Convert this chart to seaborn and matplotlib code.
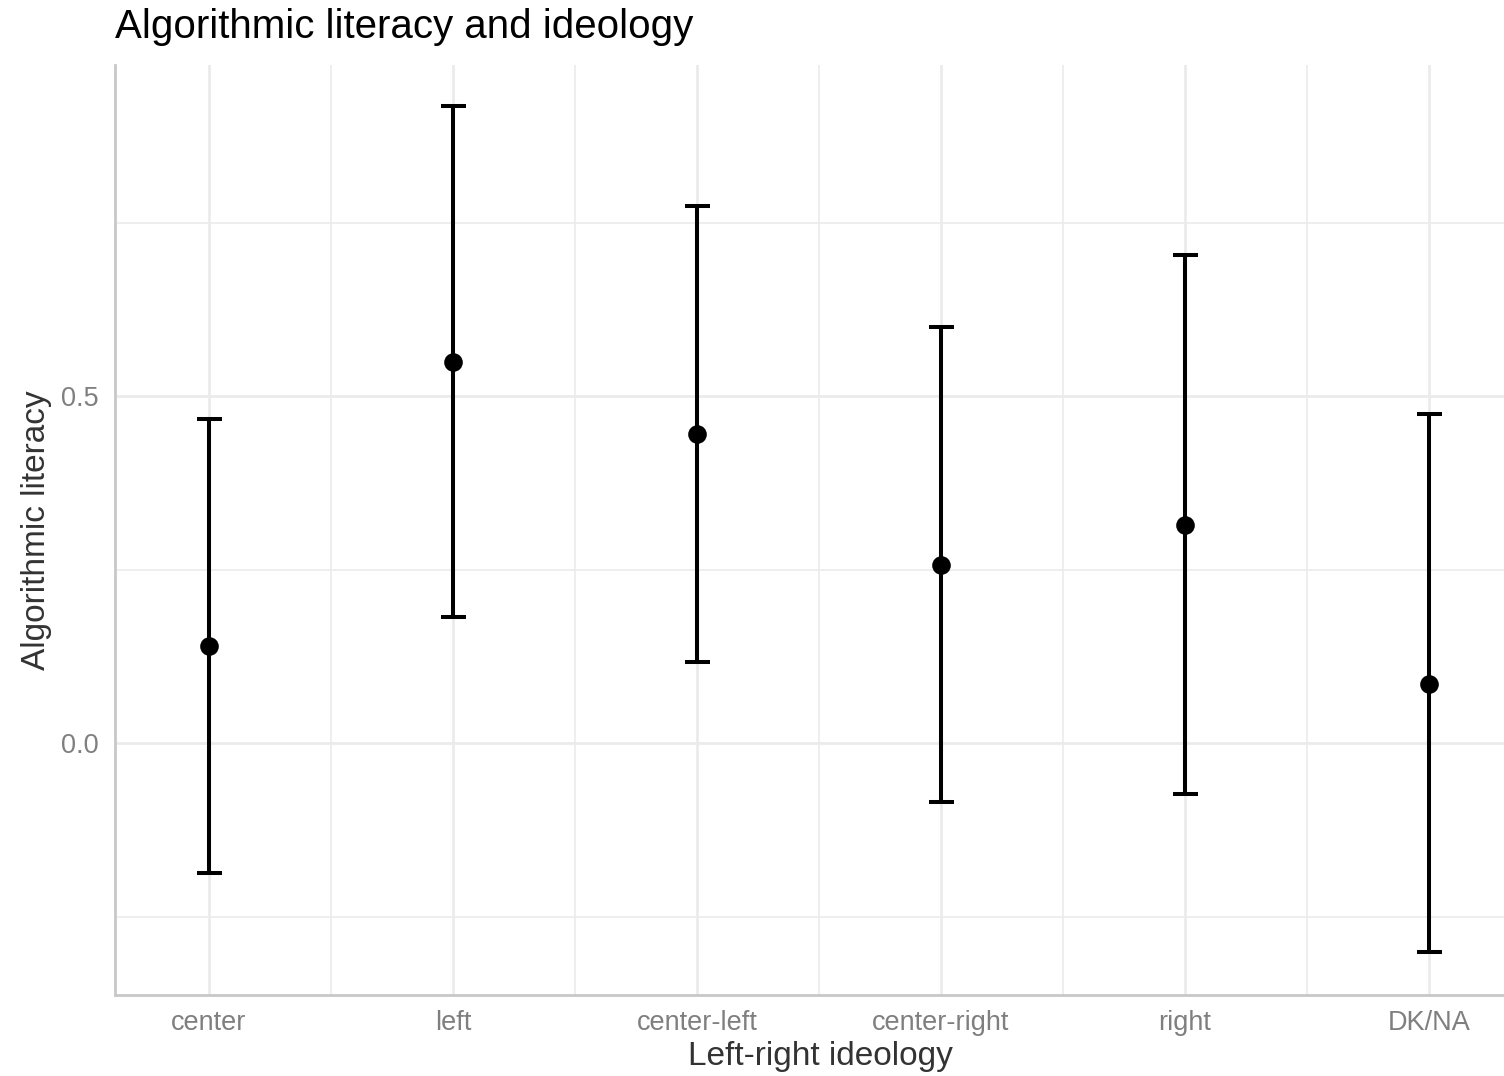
import matplotlib
matplotlib.use("Agg")
import matplotlib.pyplot as plt
import seaborn as sns
import pandas as pd
import numpy as np
from matplotlib.ticker import FixedLocator

categories = ["center", "left", "center-left", "center-right", "right", "DK/NA"]
estimate = [0.140, 0.549, 0.445, 0.257, 0.314, 0.085]
lower = [-0.187, 0.182, 0.117, -0.085, -0.074, -0.301]
upper = [0.467, 0.918, 0.774, 0.599, 0.703, 0.474]

df = pd.DataFrame({"ideology": categories, "estimate": estimate,
                   "lower": lower, "upper": upper})

sns.set_theme(style="white")
plt.rcParams["font.family"] = ["Liberation Sans", "DejaVu Sans"]

W, H = 1504, 1076
fig = plt.figure(figsize=(W / 100, H / 100), dpi=100)
ax = fig.add_axes([115 / W, (H - 995) / H, (1504 - 115) / W, (995 - 65) / H])

xpos = np.arange(len(categories))
ax.errorbar(xpos, df["estimate"],
            yerr=[df["estimate"] - df["lower"], df["upper"] - df["estimate"]],
            fmt="none", ecolor="black", elinewidth=2.9, capsize=9, capthick=2.9, zorder=3)
sns.scatterplot(data=df, x="ideology", y="estimate", color="black", s=180,
                edgecolor="black", linewidth=0, ax=ax, zorder=4)

ax.set_xlim(-0.385, 5.307)
ax.set_ylim(-0.363, 0.977)

ax.set_yticks([0.0, 0.5])
ax.set_yticklabels(["0.0", "0.5"])
ax.yaxis.set_minor_locator(FixedLocator([-0.25, 0.25, 0.75]))
ax.set_xticks(xpos)
ax.set_xticklabels(categories)
ax.xaxis.set_minor_locator(FixedLocator(xpos[:-1] + 0.5))

ax.grid(which="major", color="#EBEBEB", linewidth=2.0)
ax.grid(which="minor", color="#EBEBEB", linewidth=1.2)
ax.set_axisbelow(True)

ax.tick_params(axis="both", which="both", length=0, labelsize=19.5, labelcolor="#7F7F7F")
ax.tick_params(axis="x", pad=11)
ax.tick_params(axis="y", pad=12)

for s in ["top", "right"]:
    ax.spines[s].set_visible(False)
for s in ["left", "bottom"]:
    ax.spines[s].set_color("#C8C8C8")
    ax.spines[s].set_linewidth(2.0)

ax.set_xlabel("Left-right ideology", fontsize=24, color="#333333")
ax.xaxis.label.set_va("center")
ax.xaxis.set_label_coords((820 - 115) / (1504 - 115), -(1057 - 995) / (995 - 65))
ax.set_ylabel("Algorithmic literacy", fontsize=24, color="#333333", labelpad=6)
fig.text(115 / W, 1 - 27 / H, "Algorithmic literacy and ideology", fontsize=29,
         color="black", ha="left", va="center")

fig.savefig("out.png", dpi=100)
